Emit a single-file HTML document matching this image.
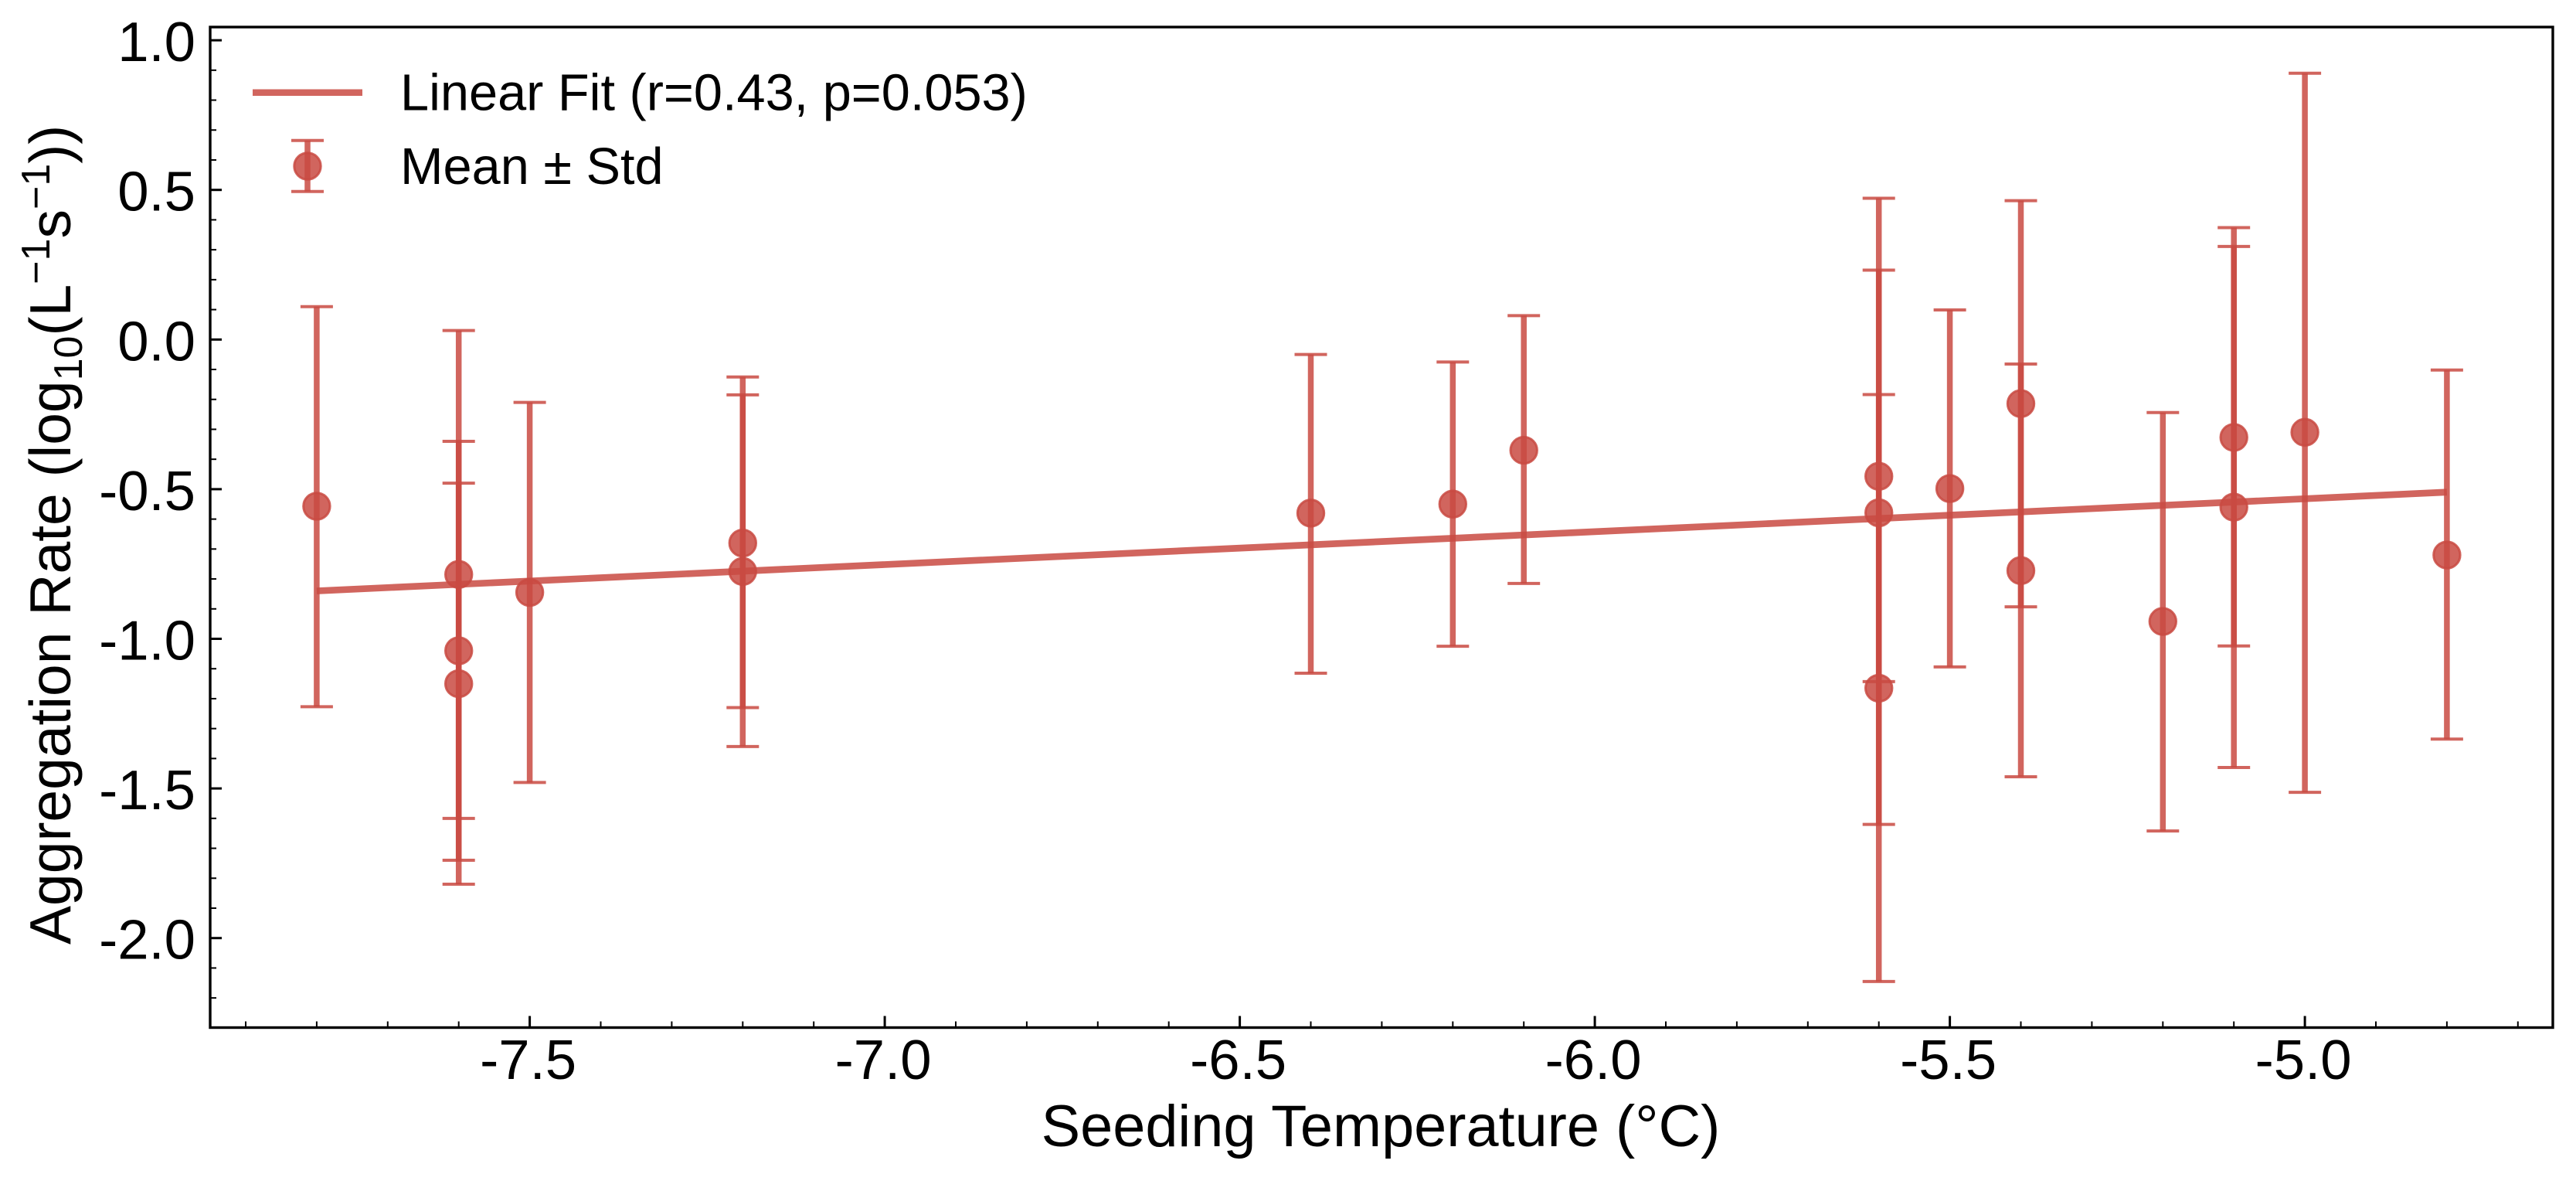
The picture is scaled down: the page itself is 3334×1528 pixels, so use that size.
<!DOCTYPE html>
<html lang="en">
<head>
<meta charset="utf-8">
<title>Aggregation Rate vs Seeding Temperature</title>
<style>
html,body{margin:0;padding:0;background:#fff;width:3334px;height:1528px;overflow:hidden}
svg{display:block}
text{font-family:"Liberation Sans",Arial,sans-serif;fill:#000}
</style>
</head>
<body>
<svg id="chart" xmlns="http://www.w3.org/2000/svg" width="3334" height="1528" viewBox="0 0 3334 1528">
  <g id="marks"></g>
  <g id="ticks"></g>
  <rect x="272" y="35" width="3032" height="1294.5" fill="none" stroke="#000" stroke-width="3.4"/>
  <text x="1787" y="1483" font-size="75.7" text-anchor="middle">Seeding Temperature (°C)</text>
  <text transform="translate(91,1222) rotate(-90)" font-size="75">Aggregation Rate (log<tspan font-size="52" dy="15">10</tspan><tspan dy="-15">(L</tspan><tspan font-size="52" dy="-27">−1</tspan><tspan dy="27">s</tspan><tspan font-size="52" dy="-27">−1</tspan><tspan dy="27">))</tspan></text>
  <g>
    <line x1="327" y1="119.7" x2="469" y2="119.7" stroke="#c94a42" stroke-opacity="0.85" stroke-width="8.5"/>
    <text x="518" y="142.7" font-size="66.7">Linear Fit (r=0.43, p=0.053)</text>
    <line x1="398" y1="181.7" x2="398" y2="247.7" stroke="#c94a42" stroke-opacity="0.85" stroke-width="7.5"/>
    <line x1="377" y1="181.7" x2="419" y2="181.7" stroke="#c94a42" stroke-opacity="0.85" stroke-width="4"/>
    <line x1="377" y1="247.7" x2="419" y2="247.7" stroke="#c94a42" stroke-opacity="0.85" stroke-width="4"/>
    <circle cx="398" cy="215" r="17.2" fill="#c94a42" fill-opacity="0.85" stroke="#c94a42" stroke-opacity="0.85" stroke-width="3"/>
    <text x="518" y="238" font-size="66.7">Mean ± Std</text>
  </g>
</svg>
<script>
var temperatures = [-7.8, -7.6, -7.6, -7.6, -7.5, -7.2, -7.2, -6.4, -6.2, -6.1, -5.6, -5.6, -5.6, -5.5, -5.4, -5.4, -5.2, -5.1, -5.1, -5.0, -4.8];
var means        = [-0.557, -0.785, -1.04, -1.15, -0.845, -0.68, -0.775, -0.58, -0.55, -0.37, -0.457, -0.579, -1.165, -0.498, -0.214, -0.772, -0.942, -0.327, -0.56, -0.31, -0.72];
var upperCaps    = [0.11, 0.03, -0.34, -0.48, -0.21, -0.125, -0.185, -0.05, -0.075, 0.08, 0.232, 0.472, -0.184, 0.099, 0.464, -0.082, -0.244, 0.374, 0.311, 0.89, -0.102];
var lowerCaps    = [-1.227, -1.6, -1.74, -1.82, -1.48, -1.23, -1.36, -1.115, -1.025, -0.815, -1.143, -1.62, -2.145, -1.094, -0.893, -1.461, -1.642, -1.024, -1.43, -1.513, -1.335];
var fitX = [-7.8, -4.8];
var fitY = [-0.84, -0.51];
var xMajorTicks = [-7.5, -7.0, -6.5, -6.0, -5.5, -5.0];
var xTickLabels = ['-7.5', '-7.0', '-6.5', '-6.0', '-5.5', '-5.0'];
var yMajorTicks = [1.0, 0.5, 0.0, -0.5, -1.0, -1.5, -2.0];
var yTickLabels = ['1.0', '0.5', '0.0', '-0.5', '-1.0', '-1.5', '-2.0'];

var NS = 'http://www.w3.org/2000/svg';
var COLOR = '#c94a42';
var ALPHA = 0.85;
function xScale(v) { return 685.6 + (v + 7.5) * 919; }
function yScale(v) { return 439.3 - v * 387.2; }
var marks = document.getElementById('marks');
var ticks = document.getElementById('ticks');

function makeLine(parent, x1, y1, x2, y2, width, color, opacity) {
  var el = document.createElementNS(NS, 'line');
  el.setAttribute('x1', x1);
  el.setAttribute('y1', y1);
  el.setAttribute('x2', x2);
  el.setAttribute('y2', y2);
  el.setAttribute('stroke', color);
  el.setAttribute('stroke-width', width);
  el.setAttribute('stroke-opacity', opacity);
  parent.appendChild(el);
  return el;
}

var fit = makeLine(marks, xScale(fitX[0]), yScale(fitY[0]), xScale(fitX[1]), yScale(fitY[1]), 8.7, COLOR, ALPHA);



temperatures.forEach(function (t, i) {
  var cx = xScale(t);
  var group = document.createElementNS(NS, 'g');
  
  
  marks.appendChild(group);

  var stem = makeLine(group, cx, yScale(upperCaps[i]), cx, yScale(lowerCaps[i]), 7.5, COLOR, ALPHA);
  
  

  var top = makeLine(group, cx - 21, yScale(upperCaps[i]), cx + 21, yScale(upperCaps[i]), 4, COLOR, ALPHA);
  
  

  var bottom = makeLine(group, cx - 21, yScale(lowerCaps[i]), cx + 21, yScale(lowerCaps[i]), 4, COLOR, ALPHA);
  
  

  var dot = document.createElementNS(NS, 'circle');
  
  
  dot.setAttribute('cx', cx);
  dot.setAttribute('cy', yScale(means[i]));
  dot.setAttribute('r', 17.2);
  dot.setAttribute('fill', COLOR);
  dot.setAttribute('fill-opacity', ALPHA);
  dot.setAttribute('stroke', COLOR);
  dot.setAttribute('stroke-opacity', ALPHA);
  dot.setAttribute('stroke-width', 3);
  group.appendChild(dot);
});

var BOTTOM = 1329.5, LEFT = 272;

xMajorTicks.forEach(function (v, i) {
  var x = xScale(v);
  var tick = makeLine(ticks, x, BOTTOM, x, BOTTOM - 15, 3, '#000', 1);
  
  
  var label = document.createElementNS(NS, 'text');
  
  
  label.setAttribute('x', x - 2);
  label.setAttribute('y', 1396);
  label.setAttribute('font-size', 72.5);
  label.setAttribute('text-anchor', 'middle');
  label.textContent = xTickLabels[i];
  ticks.appendChild(label);
});

for (var k = -79; k <= -47; k++) {
  if (k % 5 === 0) continue;
  var mx = xScale(k / 10);
  var xMinor = makeLine(ticks, mx, BOTTOM, mx, BOTTOM - 8, 2, '#000', 1);
  
  
}

yMajorTicks.forEach(function (v, i) {
  var y = yScale(v);
  var tick = makeLine(ticks, LEFT, y, LEFT + 15, y, 3, '#000', 1);
  
  
  var label = document.createElementNS(NS, 'text');
  
  
  label.setAttribute('x', 253);
  label.setAttribute('y', y + 27);
  label.setAttribute('font-size', 72.5);
  label.setAttribute('text-anchor', 'end');
  label.textContent = yTickLabels[i];
  ticks.appendChild(label);
});

for (var m = -22; m <= 10; m++) {
  if (m % 5 === 0) continue;
  var my = yScale(m / 10);
  var yMinor = makeLine(ticks, LEFT, my, LEFT + 8, my, 2, '#000', 1);
  
  
}
</script>
</body>
</html>
